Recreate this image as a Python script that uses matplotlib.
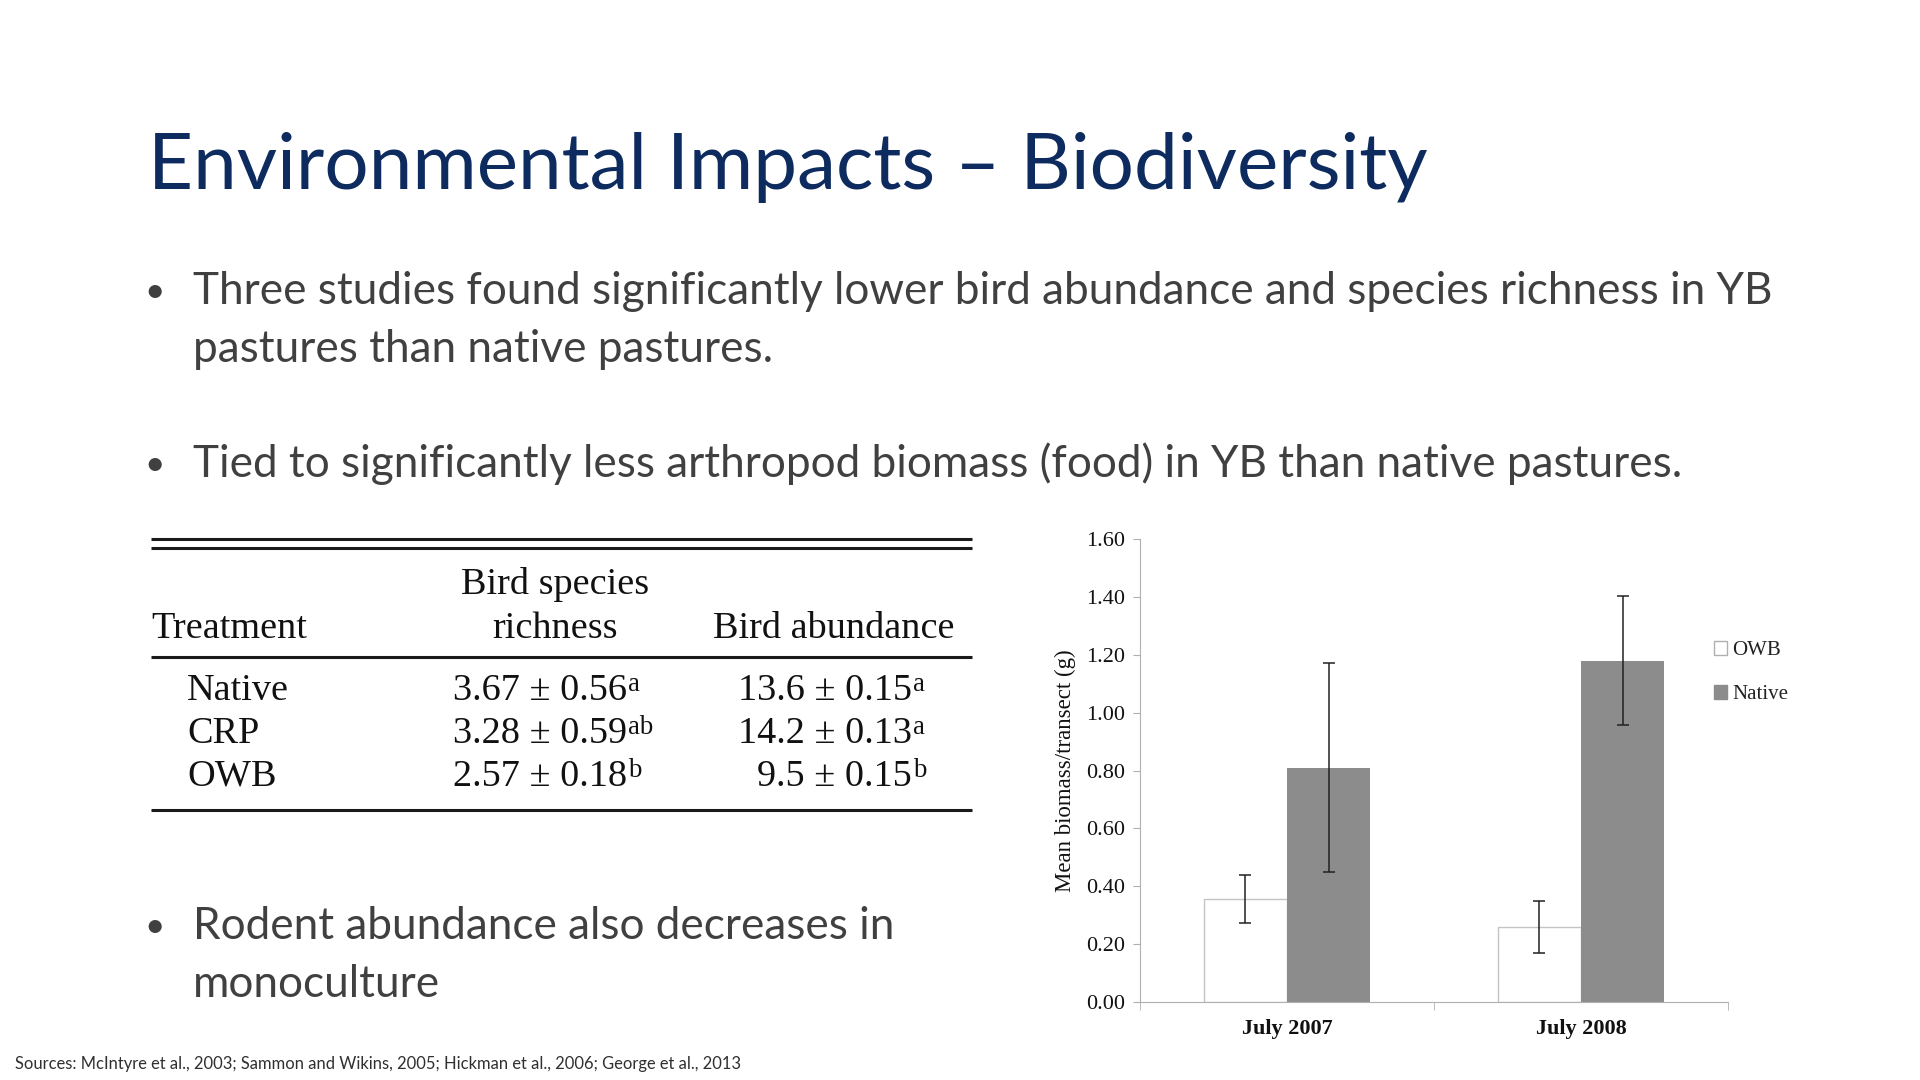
import matplotlib
matplotlib.use("Agg")
import matplotlib.pyplot as plt
from matplotlib.patches import Patch

# ---- data ----
title = "Environmental Impacts \u2013 Biodiversity"
bullet1 = ["Three studies found significantly lower bird abundance and species richness in YB",
           "pastures than native pastures."]
bullet2 = ["Tied to significantly less arthropod biomass (food) in YB than native pastures."]
bullet3 = ["Rodent abundance also decreases in", "monoculture"]
sources = "Sources: McIntyre et al., 2003; Sammon and Wikins, 2005; Hickman et al., 2006; George et al., 2013"

treatments = ["Native", "CRP", "OWB"]
richness = ["3.67 \u00b1 0.56", "3.28 \u00b1 0.59", "2.57 \u00b1 0.18"]
richness_sup = ["a", "ab", "b"]
abundance = ["13.6 \u00b1 0.15", "14.2 \u00b1 0.13", "9.5 \u00b1 0.15"]
abundance_sup = ["a", "a", "b"]

categories = ["July 2007", "July 2008"]
owb = [0.357, 0.26]
owb_err = [0.083, 0.089]
native = [0.81, 1.18]
native_err = [0.36, 0.222]
yticks = [0.0, 0.2, 0.4, 0.6, 0.8, 1.0, 1.2, 1.4, 1.6]

SANS = "Lato"
SERIF = "Liberation Serif"
GREY_TXT = "#404040"

fig = plt.figure(figsize=(19.2, 10.8), dpi=100)
bg = fig.add_axes([0, 0, 1, 1])
bg.set_xlim(0, 1920)
bg.set_ylim(1080, 0)
bg.axis("off")
rend = fig.canvas.get_renderer()


def fit(t, width):
    w = t.get_window_extent(rend).width
    t.set_fontsize(t.get_fontsize() * width / w)
    return t.get_fontsize()


# ---- title ----
t = bg.text(148, 189, title, fontsize=60, family=SANS, color="#0D2B5E", va="baseline")
fit(t, 1282)

# ---- bullets ----
t1 = bg.text(193, 304, bullet1[0], fontsize=30, family=SANS, color=GREY_TXT, va="baseline")
fs = fit(t1, 1578)
bg.text(193, 362, bullet1[1], fontsize=fs, family=SANS, color=GREY_TXT, va="baseline")
bg.text(193, 477, bullet2[0], fontsize=fs, family=SANS, color=GREY_TXT, va="baseline")
bg.text(193, 939, bullet3[0], fontsize=fs, family=SANS, color=GREY_TXT, va="baseline")
bg.text(193, 997, bullet3[1], fontsize=fs, family=SANS, color=GREY_TXT, va="baseline")
for yb in [304, 477, 939]:
    bg.text(155, yb - 2, "\u2022", fontsize=fs * 0.8, family=SANS, color=GREY_TXT, va="baseline", ha="center")

s = bg.text(15, 1069, sources, fontsize=11, family=SANS, color="#303030", va="baseline")
fit(s, 727)

# ---- table ----
for yl in [539, 548, 657, 810]:
    bg.plot([151, 972], [yl, yl], color="#1a1a1a", lw=2.2, solid_capstyle="butt")

h = bg.text(834, 638, "Bird abundance", fontsize=22, family=SERIF, color="#111111",
            va="baseline", ha="center")
tfs = fit(h, 241)
bg.text(151, 638, "Treatment", fontsize=tfs, family=SERIF, color="#111111", va="baseline")
bg.text(555, 594, "Bird species", fontsize=tfs, family=SERIF, color="#111111", va="baseline", ha="center")
bg.text(555, 638, "richness", fontsize=tfs, family=SERIF, color="#111111", va="baseline", ha="center")

row_y = [700, 743, 786]
for i, name in enumerate(treatments):
    y = row_y[i]
    bg.text(187, y, name, fontsize=tfs, family=SERIF, color="#111111", va="baseline")
    bg.text(627, y, richness[i], fontsize=tfs, family=SERIF, color="#111111", va="baseline", ha="right")
    bg.text(628, y - 9, richness_sup[i], fontsize=tfs * 0.7, family=SERIF, color="#111111", va="baseline")
    bg.text(912, y, abundance[i], fontsize=tfs, family=SERIF, color="#111111", va="baseline", ha="right")
    bg.text(913, y - 9, abundance_sup[i], fontsize=tfs * 0.7, family=SERIF, color="#111111", va="baseline")

# ---- bar chart ----
ax = fig.add_axes([1140 / 1920, 1 - 1002 / 1080, (1728 - 1140) / 1920, (1002 - 539) / 1080])
x = list(range(len(categories)))
bw = 0.283
ax.bar([v - bw / 2 for v in x], owb, bw, yerr=owb_err, color="white", edgecolor="#c4c4c4",
       linewidth=1.0, capsize=4, error_kw=dict(ecolor="#222222", elinewidth=1.1, capthick=1.1),
       label="OWB")
ax.bar([v + bw / 2 for v in x], native, bw, yerr=native_err, color="#8c8c8c", edgecolor="#8c8c8c",
       linewidth=0, capsize=4, error_kw=dict(ecolor="#222222", elinewidth=1.1, capthick=1.1),
       label="Native")
ax.set_xlim(-0.5, 1.5)
ax.set_ylim(0, 1.6)
ax.set_yticks(yticks)
ax.set_yticklabels(["%.2f" % v for v in yticks], family=SERIF, fontsize=16, color="#111111")
ax.set_xticks(x)
ax.set_xticklabels(categories, family=SERIF, fontsize=16, color="#111111", fontweight="bold")
ax.set_xticks([-0.5, 0.5, 1.5], minor=True)
ax.tick_params(axis="x", which="major", length=0, pad=12)
ax.tick_params(axis="x", which="minor", length=6, color="#b0b0b0", direction="out")
ax.tick_params(axis="y", length=5, color="#b0b0b0", pad=6)
for sp in ["top", "right"]:
    ax.spines[sp].set_visible(False)
for sp in ["left", "bottom"]:
    ax.spines[sp].set_color("#b0b0b0")
ax.patch.set_visible(False)
ax.set_ylabel("Mean biomass/transect (g)", family=SERIF, fontsize=16.5, color="#111111", labelpad=7)

handles = [Patch(facecolor="white", edgecolor="#b0b0b0", label="OWB"),
           Patch(facecolor="#8c8c8c", edgecolor="#8c8c8c", label="Native")]
fig.legend(handles=handles, loc="upper left", bbox_to_anchor=(1704 / 1920, 1 - 631 / 1080),
           frameon=False, prop={"family": SERIF, "size": 15},
           handlelength=0.6, handleheight=0.6, handletextpad=0.25, labelspacing=1.2,
           borderpad=0, labelcolor="#222222")

fig.savefig("out.png", dpi=100, facecolor="white")
